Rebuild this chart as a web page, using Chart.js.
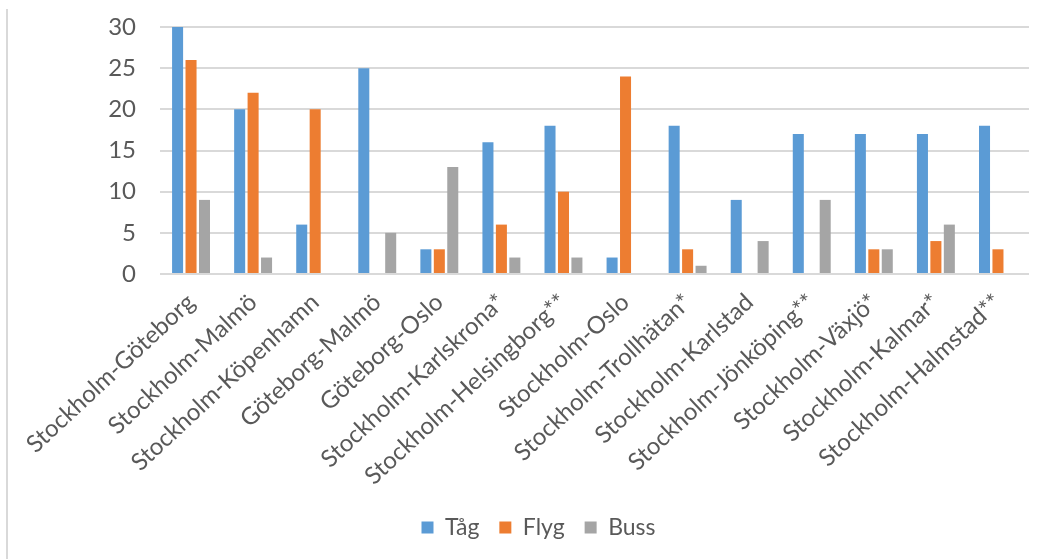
<!DOCTYPE html>
<html lang="sv">
<head>
<meta charset="utf-8">
<title>Restid per sträcka</title>
<script src="https://cdn.jsdelivr.net/npm/chart.js@4/dist/chart.umd.min.js"></script>
<style>
  html, body { margin: 0; padding: 0; background: #fff; }
  #wrap { position: relative; width: 1046px; height: 559px; }
  #frame { position: absolute; left: 6px; top: 9px; width: 2px; height: 550px; background: #d9d9d9; }
  canvas { position: absolute; left: 0; top: 0; }
</style>
</head>
<body>
<div id="wrap">
  <div id="frame"></div>
  <canvas id="chart" width="1046" height="559"></canvas>
</div>
<script>
// Sträckor (kategorier)
const routes = [
  'Stockholm-Göteborg', 'Stockholm-Malmö', 'Stockholm-Köpenhamn', 'Göteborg-Malmö',
  'Göteborg-Oslo', 'Stockholm-Karlskrona*', 'Stockholm-Helsingborg**', 'Stockholm-Oslo',
  'Stockholm-Trollhätan*', 'Stockholm-Karlstad', 'Stockholm-Jönköping**', 'Stockholm-Växjö*',
  'Stockholm-Kalmar*', 'Stockholm-Halmstad**'
];

// Värden per transportslag
const tag  = [30, 20, 6, 25, 3, 16, 18, 2, 18, 9, 17, 17, 17, 18];
const flyg = [26, 22, 20, 0, 3, 6, 10, 24, 3, 0, 0, 3, 4, 3];
const buss = [9, 2, 0, 5, 13, 2, 2, 0, 1, 4, 9, 3, 6, 0];

// Y-axelns skalsteg
const yTicks = [0, 5, 10, 15, 20, 25, 30];

const textColor = '#595959';
const gridColor = '#d9d9d9';
const fontFamily = 'Lato, "Open Sans", sans-serif';

// Flyttar förklaringen en bit åt höger efter layouten
const legendShift = {
  id: 'legendShift',
  afterLayout(chart) {
    const lg = chart.legend;
    if (!lg) return;
    lg.left += 24;
    lg.right += 24;
  }
};

new Chart(document.getElementById('chart'), {
  type: 'bar',
  data: {
    labels: routes,
    datasets: [
      { label: 'Tåg',  data: tag,  backgroundColor: '#5b9bd5' },
      { label: 'Flyg', data: flyg, backgroundColor: '#ed7d31' },
      { label: 'Buss', data: buss, backgroundColor: '#a5a5a5' }
    ]
  },
  plugins: [legendShift],
  options: {
    responsive: false,
    animation: false,
    events: [],
    devicePixelRatio: 1,
    layout: { padding: { top: 27, right: 17, bottom: 10, left: 0 } },
    datasets: {
      bar: { barPercentage: 0.82, categoryPercentage: 0.65 }
    },
    scales: {
      x: {
        grid: { display: false },
        border: { display: false },
        ticks: {
          autoSkip: false,
          minRotation: 43,
          maxRotation: 43,
          padding: 6,
          color: textColor,
          font: { family: fontFamily, size: 24 }
        },
        afterFit: (scale) => { scale.height = 222; }
      },
      y: {
        min: 0,
        max: 30,
        afterBuildTicks: (scale) => { scale.ticks = yTicks.map(v => ({ value: v })); },
        grid: {
          color: gridColor,
          lineWidth: 2,
          drawTicks: true,
          tickLength: 24,
          tickColor: 'rgba(0,0,0,0)'
        },
        border: { display: false },
        ticks: {
          padding: 0,
          color: textColor,
          font: { family: fontFamily, size: 24 }
        },
        afterFit: (scale) => { scale.width = 160; }
      }
    },
    plugins: {
      legend: {
        position: 'bottom',
        labels: {
          boxWidth: 12,
          boxHeight: 12,
          padding: 20,
          color: textColor,
          font: { family: fontFamily, size: 23 }
        }
      },
      tooltip: { enabled: false }
    }
  }
});
</script>
</body>
</html>
